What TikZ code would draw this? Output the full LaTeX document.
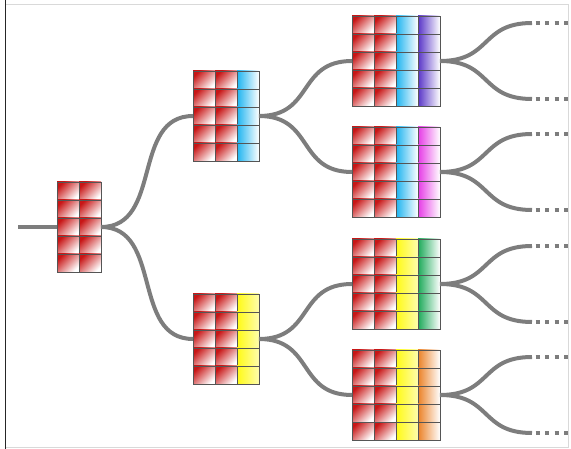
\documentclass[tikz,border=0pt]{standalone}
\definecolor{cred}{RGB}{200,22,22}
\definecolor{ccyan}{RGB}{30,180,240}
\definecolor{cpurple}{RGB}{90,55,200}
\definecolor{cmagenta}{RGB}{230,60,230}
\definecolor{cyel}{RGB}{255,250,20}
\definecolor{cgreen}{RGB}{30,170,90}
\definecolor{corange}{RGB}{235,130,40}
\definecolor{connc}{RGB}{125,125,125}
\definecolor{cellline}{RGB}{85,85,85}
\tikzset{
  conn/.style={draw=connc, line width=4pt},
  dotline/.style={draw=connc, line width=4pt, dash pattern=on 4pt off 5.5pt},
  gridbox/.style={draw=cellline, line width=0.6pt, minimum height=90pt, inner sep=0pt, outer sep=0pt},
  cellstyle/.style={draw=cellline, line width=0.6pt},
}
% #1 name, #2 left x, #3 top y, #4 number of columns, #5 list color/middle/end/angle
\newcommand\mycellgrid[5]{%
  \foreach \cc/\cm/\ce/\ca [count=\ci from 0] in {#5} {
    \foreach \rr in {0,...,4} {
      \shadedraw[cellstyle, left color=\cc, middle color=\cm, right color=\ce, shading angle=\ca]
        ({#2+\ci*22},{#3+\rr*18}) rectangle ++(22,18);
    }
  }
  \node[gridbox, minimum width={#4*22pt}] (#1) at ({#2+#4*11},{#3+45}) {};
}
\begin{document}
\begin{tikzpicture}[x=1pt, y=-1pt]
\useasboundingbox (0,0) rectangle (571,449);
% frame
\draw[black!15, line width=0.8pt] (5.5,4) -- (568,4) -- (568,447) -- (5.5,447);
\draw[black!85, line width=1.3pt] (5.5,0) -- (5.5,449);

% grids
\mycellgrid{root}{57}{182}{2}{cred/cred!55!white/white/45, cred/cred!55!white/white/45}
\mycellgrid{a}{193}{71}{3}{cred/cred!55!white/white/45, cred/cred!55!white/white/45, ccyan/ccyan!60!white/white/90}
\mycellgrid{b}{193}{294}{3}{cred/cred!55!white/white/45, cred/cred!55!white/white/45, cyel/cyel!75!white/cyel!35!white/90}
\mycellgrid{aa}{352}{16}{4}{cred/cred!55!white/white/45, cred/cred!55!white/white/45, ccyan/ccyan!60!white/white/90, cpurple/cpurple!60!white/white/90}
\mycellgrid{ab}{352}{127}{4}{cred/cred!55!white/white/45, cred/cred!55!white/white/45, ccyan/ccyan!60!white/white/90, cmagenta/cmagenta!60!white/white/90}
\mycellgrid{ba}{352}{239}{4}{cred/cred!55!white/white/45, cred/cred!55!white/white/45, cyel/cyel!75!white/cyel!35!white/90, cgreen/cgreen!60!white/white/90}
\mycellgrid{bb}{352}{350}{4}{cred/cred!55!white/white/45, cred/cred!55!white/white/45, cyel/cyel!75!white/cyel!35!white/90, corange/corange!60!white/white/90}

% input
\coordinate (in) at (18,227);
\draw[conn] (in) -- (root.west);

% level 0 -> 1
\draw[conn] (root.east) .. controls +(62,0) and +(-62,0) .. (a.west);
\draw[conn] (root.east) .. controls +(62,0) and +(-62,0) .. (b.west);
% level 1 -> 2
\foreach \p/\q in {a/aa, a/ab, b/ba, b/bb} {
  \draw[conn] (\p.east) .. controls +(55,0) and +(-55,0) .. (\q.west);
}
% level 2 -> open ends
\foreach \q in {aa, ab, ba, bb} {
  \coordinate (\q-u) at ([xshift=92pt, yshift=38pt]\q.east);
  \coordinate (\q-d) at ([xshift=92pt, yshift=-38pt]\q.east);
  \coordinate (\q-uu) at ([xshift=128pt, yshift=38pt]\q.east);
  \coordinate (\q-dd) at ([xshift=128pt, yshift=-38pt]\q.east);
  \draw[conn] (\q.east) .. controls +(52,0) and +(-52,0) .. (\q-u);
  \draw[conn] (\q.east) .. controls +(52,0) and +(-52,0) .. (\q-d);
  \draw[dotline] ([xshift=3.5pt]\q-u) -- (\q-uu);
  \draw[dotline] ([xshift=3.5pt]\q-d) -- (\q-dd);
}
\end{tikzpicture}
\end{document}
